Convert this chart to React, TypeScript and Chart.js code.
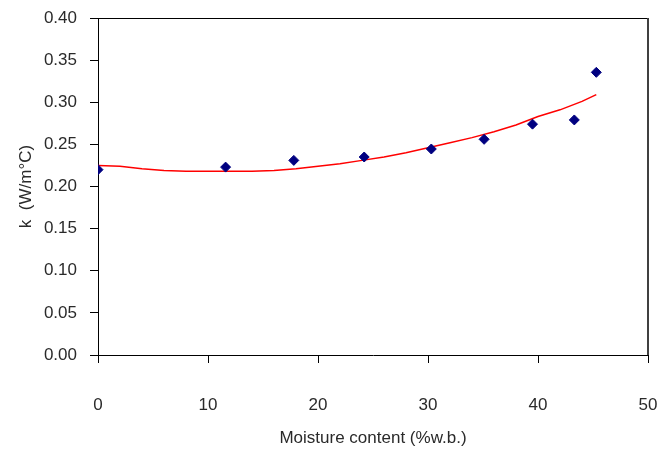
import React, { useEffect, useRef } from "react";
import { Chart, registerables } from "chart.js";

Chart.register(...registerables);

const moisture = [0, 11.6, 17.8, 24.2, 30.3, 35.1, 39.5, 43.3, 45.3];
const conductivity = [0.22, 0.223, 0.231, 0.235, 0.2445, 0.256, 0.274, 0.279, 0.3355];

const fitMoisture = [0, 2, 4, 6, 8, 10, 12, 14, 16, 18, 20, 22, 24, 26, 28, 30, 32, 34, 36, 38, 40, 42, 44, 45.3];
const fitConductivity = [
  0.225, 0.224, 0.221, 0.219, 0.218, 0.218, 0.218, 0.218, 0.219, 0.221, 0.224, 0.227, 0.231,
  0.235, 0.24, 0.246, 0.252, 0.258, 0.265, 0.273, 0.283, 0.291, 0.301, 0.309,
];

const xTicks = [0, 10, 20, 30, 40, 50];
const yTicks = [0, 0.05, 0.1, 0.15, 0.2, 0.25, 0.3, 0.35, 0.4];

const FONT = "'Liberation Sans', Arial, sans-serif";
const TEXT = "#2a2a2a";

const frame = {
  id: "frame",
  afterDraw(chart: any) {
    const { ctx, chartArea: a } = chart;
    ctx.save();
    ctx.strokeStyle = "#000";
    ctx.lineWidth = 1;
    ctx.beginPath();
    ctx.moveTo(a.left, a.top + 0.5);
    ctx.lineTo(a.right, a.top + 0.5);
    ctx.stroke();
    ctx.strokeStyle = "#404040";
    ctx.lineWidth = 2;
    ctx.beginPath();
    ctx.moveTo(a.right, a.top);
    ctx.lineTo(a.right, a.bottom);
    ctx.stroke();
    ctx.restore();
  },
};

export default function App() {
  const ref = useRef<HTMLCanvasElement>(null);
  useEffect(() => {
    const chart = new Chart(ref.current!, {
      type: "scatter",
      data: {
        datasets: [
          {
            label: "data",
            data: moisture.map((x, i) => ({ x, y: conductivity[i] })),
            pointStyle: "rectRot",
            pointRadius: 5,
            backgroundColor: "#000080",
            borderColor: "#000080",
            borderWidth: 1,
            order: 0,
          },
          {
            label: "fit",
            type: "line",
            data: fitMoisture.map((x, i) => ({ x, y: fitConductivity[i] })),
            borderColor: "#ff0000",
            borderWidth: 1.5,
            pointRadius: 0,
            fill: false,
            tension: 0,
            order: 1,
          } as any,
        ],
      },
      options: {
        animation: false,
        responsive: false,
        devicePixelRatio: 1,
        layout: { padding: { top: 18, right: 9, left: 0, bottom: 0 } },
        plugins: { legend: { display: false }, tooltip: { enabled: false } },
        scales: {
          x: {
            type: "linear",
            min: 0,
            max: 50,
            afterBuildTicks: (s: any) => {
              s.ticks = xTicks.map((v) => ({ value: v }));
            },
            afterFit: (s: any) => {
              s.height = 95;
              s.paddingLeft = 0;
              s.paddingRight = 0;
            },
            grid: { drawOnChartArea: false, drawTicks: true, tickLength: 8, color: "#000" },
            border: { display: true, color: "#000", width: 1 },
            ticks: { color: TEXT, font: { family: FONT, size: 17 }, padding: 32, maxRotation: 0 },
            title: {
              display: true,
              text: "Moisture content (%w.b.)",
              color: TEXT,
              font: { family: FONT, size: 17 },
              padding: { top: 0, bottom: 1 },
            },
          },
          y: {
            type: "linear",
            min: 0,
            max: 0.4,
            afterBuildTicks: (s: any) => {
              s.ticks = yTicks.map((v) => ({ value: v }));
            },
            afterFit: (s: any) => {
              s.width = 98;
              s.paddingTop = 0;
              s.paddingBottom = 0;
            },
            grid: { drawOnChartArea: false, drawTicks: true, tickLength: 8, color: "#000" },
            border: { display: true, color: "#000", width: 1 },
            ticks: {
              color: TEXT,
              font: { family: FONT, size: 17 },
              padding: 13,
              callback: (v: any) => Number(v).toFixed(2),
            },
            title: {
              display: true,
              text: "k  (W/m°C)",
              color: TEXT,
              font: { family: FONT, size: 17 },
              padding: { top: 16, bottom: 0 },
            },
          },
        },
      },
      plugins: [frame],
    });
    return () => chart.destroy();
  }, []);
  return (
    <div style={{ position: "absolute", left: 0, top: 0, width: 657, height: 450, background: "#fff" }}>
      <canvas ref={ref} width={657} height={450} />
    </div>
  );
}
